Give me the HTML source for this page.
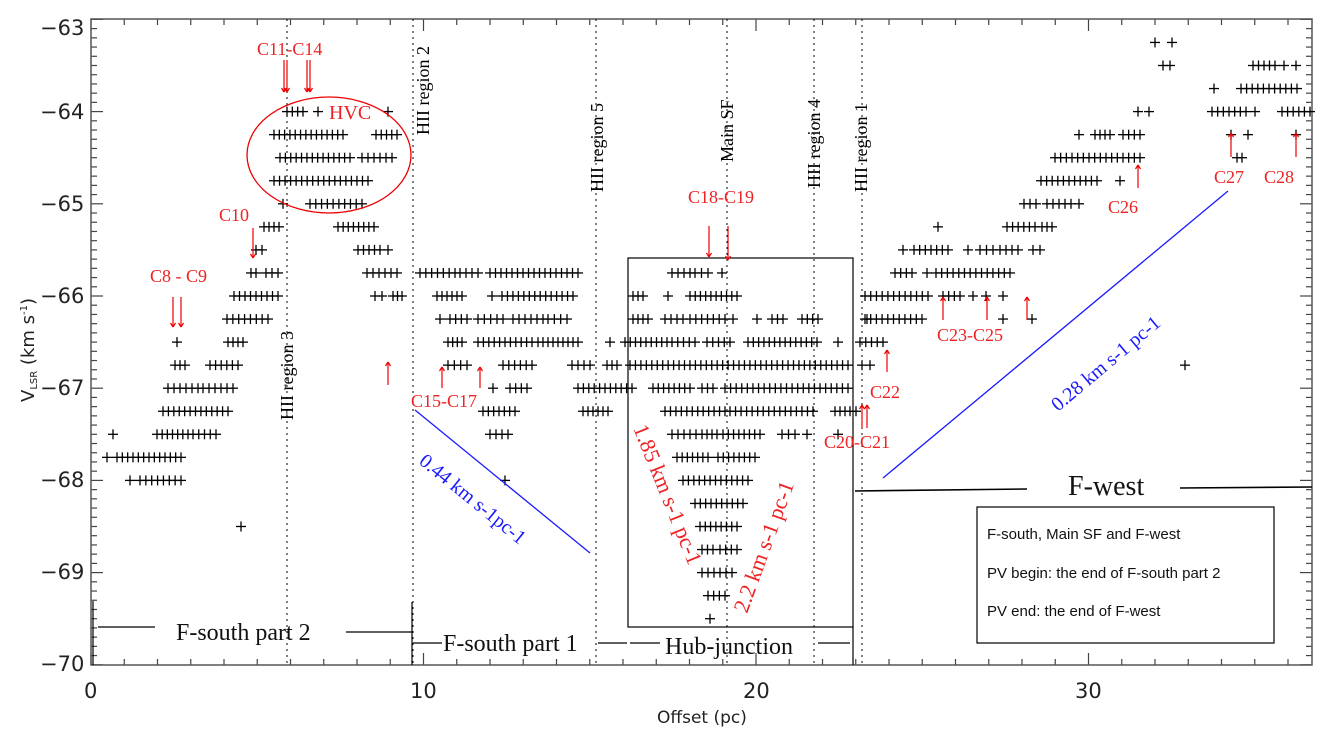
<!DOCTYPE html>
<html><head><meta charset="utf-8"><style>
html,body{margin:0;padding:0;background:#fff;}
svg{display:block;}
</style></head><body>
<svg id="s" width="1333" height="729" viewBox="0 0 1333 729" xmlns="http://www.w3.org/2000/svg" font-family="Liberation Serif, serif">
<rect width="1333" height="729" fill="#fff"/>
<g id="ticks" stroke="#444" stroke-width="1.2"></g>
<rect x="91" y="19" width="1221" height="646" fill="none" stroke="#555" stroke-width="1.5"/>
<g id="pts" stroke="#000" stroke-width="1.3"></g>
<g stroke="#000" stroke-width="1" stroke-dasharray="2,4">
<line x1="287" y1="19" x2="287" y2="665"/>
<line x1="413" y1="19" x2="413" y2="665"/>
<line x1="596" y1="19" x2="596" y2="665"/>
<line x1="727" y1="19" x2="727" y2="665"/>
<line x1="814" y1="19" x2="814" y2="665"/>
<line x1="862" y1="19" x2="862" y2="665"/>
</g>
<g font-size="18" fill="#000">
<text transform="translate(293,420) rotate(-90)">HII region 3</text>
<text transform="translate(429,135) rotate(-90)">HII region 2</text>
<text transform="translate(603,192) rotate(-90)">HII region 5</text>
<text transform="translate(733,162) rotate(-90)">Main SF</text>
<text transform="translate(820,188) rotate(-90)">HII region 4</text>
<text transform="translate(867,192) rotate(-90)">HII region 1</text>
</g>
<rect x="628" y="258" width="225" height="369" fill="none" stroke="#000" stroke-width="1.2"/>
<line x1="853" y1="627" x2="853" y2="665" stroke="#000" stroke-width="1.2"/>
<line x1="412" y1="602" x2="412" y2="665" stroke="#000" stroke-width="1.2"/>
<line x1="93" y1="601" x2="93" y2="665" stroke="#000" stroke-width="1.2"/>
<g stroke="#000" stroke-width="1.2">
<line x1="98" y1="627" x2="155" y2="627"/>
<line x1="346" y1="632" x2="412" y2="632"/>
<line x1="413" y1="643" x2="442" y2="643"/>
<line x1="598" y1="643" x2="627" y2="643"/>
<line x1="630" y1="643" x2="660" y2="643"/>
<line x1="818" y1="643" x2="850" y2="643"/>
<line x1="855" y1="491" x2="1027" y2="489" stroke-width="1.6"/>
<line x1="1180" y1="488" x2="1312" y2="487" stroke-width="1.6"/>
</g>
<g font-size="24" fill="#111">
<text x="176" y="640">F-south part 2</text>
<text x="443" y="651">F-south part 1</text>
<text x="665" y="654">Hub-junction</text>
<text x="1068" y="495" font-size="28">F-west</text>
</g>
<rect x="977" y="507" width="297" height="136" fill="none" stroke="#000" stroke-width="1.2"/>
<g font-family="Liberation Sans, sans-serif" font-size="15" fill="#111">
<text x="987" y="539">F-south, Main SF and F-west</text>
<text x="987" y="578">PV begin: the end of F-south part 2</text>
<text x="987" y="616">PV end:  the end of F-west</text>
</g>
<g stroke="#1a1aff" stroke-width="1.3">
<line x1="415" y1="410" x2="590" y2="553"/>
<line x1="883" y1="478" x2="1228" y2="191"/>
</g>
<g fill="#1a1aff" font-size="20">
<text transform="translate(418,463) rotate(39)">0.44 km s-1pc-1</text>
<text transform="translate(1058,412) rotate(-40)">0.28 km s-1 pc-1</text>
</g>
<ellipse cx="329" cy="155" rx="82" ry="58" fill="none" stroke="#e00" stroke-width="1.3"/>
<g fill="#e22" font-size="18">
<text x="257" y="55">C11-C14</text>
<text x="329" y="119" font-size="20">HVC</text>
<text x="219" y="221">C10</text>
<text x="150" y="282">C8 - C9</text>
<text x="411" y="407">C15-C17</text>
<text x="688" y="203">C18-C19</text>
<text x="824" y="448">C20-C21</text>
<text x="870" y="398">C22</text>
<text x="937" y="341">C23-C25</text>
<text x="1108" y="213">C26</text>
<text x="1214" y="183">C27</text>
<text x="1264" y="183">C28</text>
<text transform="translate(633,428) rotate(68)" font-size="22">1.85 km s-1 pc-1</text>
<text transform="translate(747,614) rotate(-70)" font-size="22">2.2 km s-1 pc-1</text>
</g>
<g id="arr" stroke="#e00" stroke-width="1.2" fill="none"></g>
<g font-family="DejaVu Sans, sans-serif" font-size="21" fill="#222">
<text x="40" y="35">−63</text><text x="40" y="119">−64</text><text x="40" y="211">−65</text>
<text x="40" y="303">−66</text><text x="40" y="395">−67</text><text x="40" y="487">−68</text>
<text x="40" y="579">−69</text><text x="40" y="671">−70</text>
<text x="84" y="698">0</text><text x="410" y="698">10</text><text x="743" y="698">20</text><text x="1075" y="698">30</text>
<text x="657" y="723" font-size="17">Offset (pc)</text>
<text transform="translate(34,402) rotate(-90)" font-size="18">V<tspan font-size="10" dy="3">LSR</tspan><tspan dy="-3"> (km s</tspan><tspan font-size="10" dy="-7">-1</tspan><tspan dy="7">)</tspan></text>
</g>
<script>
var NS="http://www.w3.org/2000/svg";
function ln(g,x1,y1,x2,y2){var l=document.createElementNS(NS,"line");l.setAttribute("x1",x1);l.setAttribute("y1",y1);l.setAttribute("x2",x2);l.setAttribute("y2",y2);g.appendChild(l);}
var T=document.getElementById("ticks");
for(var i=0;i<=36;i++){var x=91+i*33.25;var L=(i%10==0)?12:6;ln(T,x,665,x,665-L);ln(T,x,19,x,19+L);}
for(var v=0;v<=70;v++){var y=19.4+v*9.22;var L=(v%10==0)?12:6;ln(T,91,y,91+L,y);ln(T,1312,y,1312-L,y);}
var P=document.getElementById("pts");
function plus(x,y){ln(P,x-5,y,x+5,y);ln(P,x,y-5,x,y+5);}
function yv(v){return 19.4+(-63-v)*92.2;}
var rows={
"-63.25":[[1155],[1172]],
"-63.5":[[1163,1170],[1253,1275],[1284],[1296]],
"-63.75":[[1214],[1241,1297]],
"-64":[[287,303],[318],[388],[1138],[1149],[1212,1246],[1255],[1282,1310]],
"-64.25":[[274,343],[376,397],[1079],[1095,1110],[1123,1140],[1231],[1248],[1296]],
"-64.5":[[280,350],[362,392],[1055,1140],[1237,1242]],
"-64.75":[[274,368],[1041,1097],[1120]],
"-65":[[283],[310,362],[1024,1036],[1047,1071],[1079]],
"-65.25":[[264,279],[338,374],[938],[1007,1035],[1042,1052]],
"-65.5":[[256,262],[358,380],[388],[903],[914,948],[968],[980,993],[1000,1018],[1033,1040]],
"-65.75":[[251,256],[266,278],[367,397],[420,455],[460,478],[490,578],[672,690],[695,708],[722],[895,912],[927],[936,1010]],
"-66":[[234,278],[375,382],[393,402],[437,457],[462],[492],[502,573],[633,643],[668],[690,737],[865,928],[943,960],[973],[986],[1003]],
"-66.25":[[227,268],[440],[450,467],[478,497],[503],[513,543],[548,567],[633,648],[665,683],[690,725],[733],[757],[772,783],[802,818],[867],[865,922],[1003],[1032]],
"-66.5":[[177],[228,243],[448,462],[478,532],[538,548],[553,578],[610],[625,667],[672,695],[707,730],[748,817],[838],[860,883]],
"-66.75":[[175,185],[210,238],[448,467],[503,532],[572,590],[607,617],[630,848],[862,870],[1185]],
"-67":[[168,198],[203,233],[493],[510,527],[578,632],[653,690],[702,713],[725,848]],
"-67.25":[[163,228],[483,515],[583,608],[665,725],[730,813],[835,850],[856]],
"-67.5":[[113],[157,188],[193,216],[490,508],[672,702],[707,717],[723,760],[782,795],[807],[838]],
"-67.75":[[107],[117,181],[677,708],[718,755]],
"-68":[[130],[140,181],[505],[683,748]],
"-68.25":[[695,743]],
"-68.5":[[241],[700,737]],
"-68.75":[[702,713],[720,737]],
"-69":[[702,732]],
"-69.25":[[708,725]],
"-69.5":[[710]]
};
for(var k in rows){var y=yv(parseFloat(k));rows[k].forEach(function(s){if(s.length==1)plus(s[0],y);else{var n=Math.max(1,Math.round((s[1]-s[0])/5.5));for(var j=0;j<=n;j++)plus(s[0]+(s[1]-s[0])*j/n,y);}});}
var A=document.getElementById("arr");
function arrow(x,y1,y2){ln(A,x,y1,x,y2);var d=y2>y1?-4:4;ln(A,x-2.5,y2+d,x,y2);ln(A,x+2.5,y2+d,x,y2);}
[[284,60,92],[287,60,92],[307,60,92],[310,60,92],[253,228,258],[173,297,327],[181,297,327],[709,226,257],[728,226,260]].forEach(function(a){arrow(a[0],a[1],a[2]);});
[[388,385,362],[442,388,367],[480,388,367],[862,428,405],[867,428,405],[887,372,350],[943,320,297],[987,320,297],[1027,320,297],[1138,188,165],[1231,157,133],[1296,157,133]].forEach(function(a){arrow(a[0],a[1],a[2]);});
</script>
</svg>
</body></html>
